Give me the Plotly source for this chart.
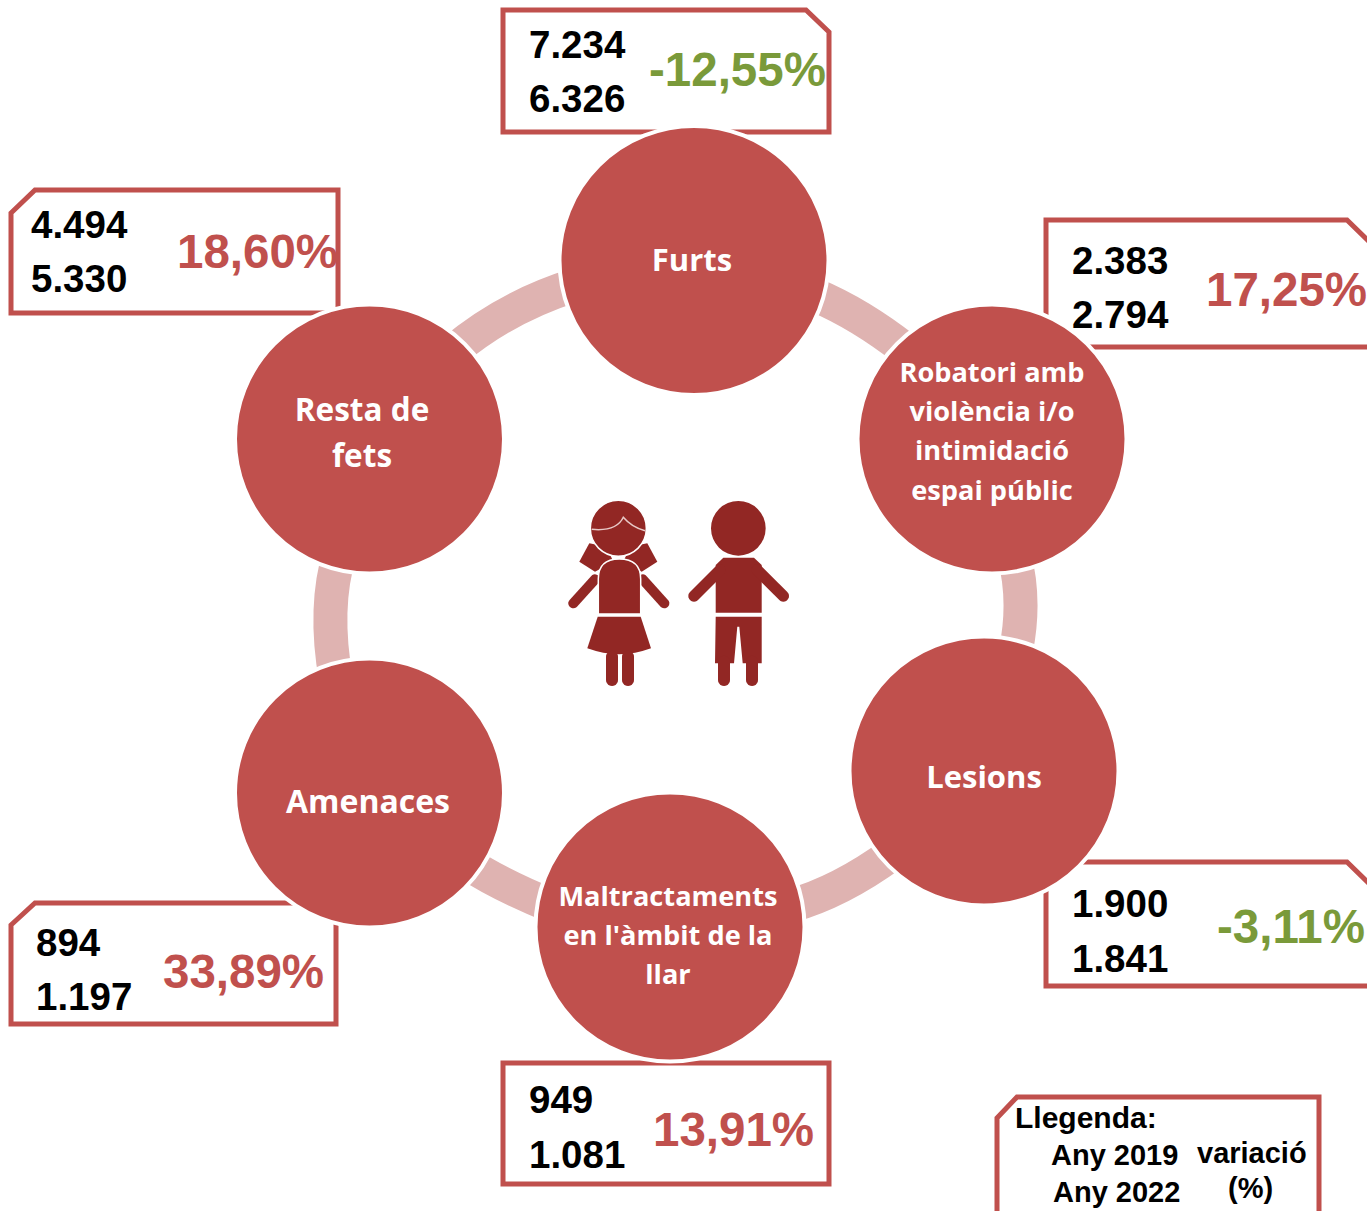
import math
import plotly.graph_objects as go

# ---- data ----
categories = ["Furts", "Robatori amb violència i/o intimidació espai públic", "Lesions",
              "Maltractaments en l'àmbit de la llar", "Amenaces", "Resta de fets"]
values_2019 = ["7.234", "2.383", "1.900", "949", "894", "4.494"]
values_2022 = ["6.326", "2.794", "1.841", "1.081", "1.197", "5.330"]
variation = ["-12,55%", "17,25%", "-3,11%", "13,91%", "33,89%", "18,60%"]
label_lines = [["Furts"], ["Robatori amb", "violència i/o", "intimidació", "espai públic"], ["Lesions"],
               ["Maltractaments", "en l'àmbit de la", "llar"], ["Amenaces"], ["Resta de", "fets"]]
legend_title = "Llegenda:"
legend_years = ["Any 2019", "Any 2022"]
legend_variation = ["variació", "(%)"]

# ---- layout of the infographic (pixels) ----
RED, GREEN, PINK, DARK = "#C0504D", "#7A9A3A", "#DFB3B1", "#922724"
node_xy = [(694, 260.5), (992, 439), (984, 771), (670, 927), (369.5, 793), (369.5, 439)]
label_y = [[263], [375, 414, 453, 493], [780], [899, 938, 977], [805], [413, 459]]
label_x = [692, 992, 984, 668, 368, 362]
label_size = [31, 27.2, 31, 27.2, 32, 31.5]
num_x = [528, 1071, 1071, 528, 35, 30]
num_y = [(44.5, 98.5), (260.5, 314.5), (903.5, 958.5), (1099.5, 1154.5), (942.5, 996.5), (224.5, 278.5)]
var_x = [737, 1286, 1291, 733, 243, 257]
var_y = [69, 289, 926, 1129, 971, 251]

boxes = [
    [(503, 10), (806, 10), (829, 32), (829, 132), (503, 132)],
    [(1046, 220), (1347, 220), (1390, 262), (1390, 347), (1046, 347)],
    [(1046, 862), (1347, 862), (1390, 904), (1390, 986), (1046, 986)],
    [(503, 1063), (829, 1063), (829, 1184), (503, 1184)],
    [(35, 903), (336, 903), (336, 1024), (11, 1024), (11, 925)],
    [(35, 190), (338, 190), (338, 313), (11, 313), (11, 213)],
    [(1017, 1097), (1319, 1097), (1319, 1240), (997, 1240), (997, 1118)],
]
arcs = [
    ((815, 295), (860, 314), (906, 350)),
    ((1014, 555), (1026, 600), (1016, 650)),
    ((790, 906), (840, 892), (892, 854)),
    ((465, 862), (500, 885), (552, 906)),
    ((340, 552), (323, 607), (336, 680)),
    ((452, 352), (505, 307), (575, 285)),
]

shapes = []
for pts in boxes:
    d = "M" + " L".join(f"{x},{y}" for x, y in pts) + " Z"
    shapes.append(dict(type="path", path=d, line=dict(color=RED, width=5), fillcolor="white", layer="below"))
for a, c, b in arcs:
    d = f"M{a[0]},{a[1]} Q{c[0]},{c[1]} {b[0]},{b[1]}"
    shapes.append(dict(type="path", path=d, line=dict(color=PINK, width=34), layer="below"))


# children pictogram, coordinates measured in a 3x crop with origin (550,490)
def z(x, y):
    return 550 + x / 3, 490 + y / 3


def poly(pts):
    p = [z(*q) for q in pts]
    return f"M{p[0][0]:.1f},{p[0][1]:.1f} " + " ".join(f"L{x:.1f},{y:.1f}" for x, y in p[1:]) + " Z"


def fill(d, outline=None):
    line = dict(width=0) if outline is None else dict(color=outline, width=1.5)
    shapes.append(dict(type="path", path=d, fillcolor=DARK, line=line, layer="above"))


def capsule(x0, y0, x1, y1, w):
    (ax, ay), (bx, by) = z(x0, y0), z(x1, y1)
    r = w / 6
    base = math.atan2(by - ay, bx - ax)
    pts = []
    for k in range(13):
        t = base - math.pi / 2 + math.pi * k / 12
        pts.append((bx + r * math.cos(t), by + r * math.sin(t)))
    for k in range(13):
        t = base + math.pi / 2 + math.pi * k / 12
        pts.append((ax + r * math.cos(t), ay + r * math.sin(t)))
    fill(f"M{pts[0][0]:.1f},{pts[0][1]:.1f} " + " ".join(f"L{x:.1f},{y:.1f}" for x, y in pts[1:]) + " Z")


def disc(cx, cy, r, outline=None):
    x, y = z(cx, cy)
    r /= 3
    line = dict(width=0) if outline is None else dict(color=outline, width=1.5)
    shapes.append(dict(type="circle", x0=x - r, x1=x + r, y0=y - r, y1=y + r, fillcolor=DARK,
                       line=line, layer="above"))


# girl
fill(poly([(118, 160), (88, 215), (135, 245), (190, 215), (170, 170)]))
fill(poly([(292, 160), (322, 215), (275, 245), (220, 215), (240, 170)]))
disc(205, 115, 84, "white")
capsule(135, 268, 70, 340, 30)
capsule(278, 268, 343, 340, 30)
ax0, ay0 = z(145, 372)
ax1, ay1 = z(272, 372)
tx, ty = z(208, 207)
fill(f"M{ax0:.1f},{ay0:.1f} L{ax0:.1f},{ty+20:.1f} Q{ax0:.1f},{ty:.1f} {tx:.1f},{ty:.1f} "
     f"Q{ax1:.1f},{ty:.1f} {ax1:.1f},{ty+20:.1f} L{ax1:.1f},{ay1:.1f} Z", "white")
sx0, sy0 = z(143, 380)
sx1, sy1 = z(272, 380)
bx0, by0 = z(112, 475)
bx1, by1 = z(303, 475)
cx, cy = z(208, 510)
fill(f"M{sx0:.1f},{sy0:.1f} L{sx1:.1f},{sy1:.1f} L{bx1:.1f},{by1:.1f} Q{cx:.1f},{cy:.1f} {bx0:.1f},{by0:.1f} Z")
capsule(186, 500, 186, 570, 36)
capsule(234, 500, 234, 570, 36)
hx0, hy0 = z(125, 118)
hc, hd = z(200, 125)
hm, hn = z(220, 82)
he, hf = z(245, 112)
hx1, hy1 = z(285, 122)
shapes.append(dict(type="path", layer="above", line=dict(color="#E8C9C7", width=1.5),
                   path=f"M{hx0:.1f},{hy0:.1f} Q{hc:.1f},{hd:.1f} {hm:.1f},{hn:.1f} Q{he:.1f},{hf:.1f} {hx1:.1f},{hy1:.1f}"))
# boy
disc(565, 115, 82)
fill(poly([(520, 203), (612, 203), (635, 225), (635, 368), (497, 368), (497, 225)]))
capsule(510, 240, 432, 318, 34)
capsule(622, 240, 700, 318, 34)
fill(poly([(497, 380), (635, 380), (635, 520), (578, 520), (568, 410), (562, 410), (552, 520), (495, 520)]))
capsule(522, 515, 522, 570, 36)
capsule(606, 515, 606, 570, 36)

fig = go.Figure()

# nodes
fig.add_trace(go.Scatter(
    x=[p[0] for p in node_xy], y=[p[1] for p in node_xy], mode="markers", hoverinfo="text",
    hovertext=categories, cliponaxis=False,
    marker=dict(size=269, color=RED, line=dict(color="white", width=4), opacity=1)))

# node labels
lx, ly, lt, ls = [], [], [], []
for x, ys, lines, s in zip(label_x, label_y, label_lines, label_size):
    for y, t in zip(ys, lines):
        lx.append(x); ly.append(y); lt.append(f"<b>{t}</b>"); ls.append(s)
fig.add_trace(go.Scatter(x=lx, y=ly, text=lt, mode="text", hoverinfo="skip", cliponaxis=False,
                         textposition="middle center",
                         textfont=dict(family="Open Sans", size=ls, color="white")))

annotations = []


def note(x, y, t, size, color="black", anchor="left", family="Liberation Sans"):
    annotations.append(dict(x=x, y=y, text=f"<b>{t}</b>", showarrow=False, xanchor=anchor, yanchor="middle",
                            font=dict(family=family, size=size, color=color), xref="x", yref="y",
                            borderpad=0, align="left"))


for i in range(6):
    note(num_x[i], num_y[i][0], values_2019[i], 38.5)
    note(num_x[i], num_y[i][1], values_2022[i], 38.5)
    color = GREEN if variation[i].startswith("-") else RED
    note(var_x[i], var_y[i], variation[i], 47.5, color, "center")

note(1014, 1117, legend_title, 30)
note(1050, 1155, legend_years[0], 29)
note(1052, 1192, legend_years[1], 29)
note(1252, 1153, legend_variation[0], 29, anchor="center")
note(1250, 1188, legend_variation[1], 29, anchor="center")

fig.update_layout(
    width=1367, height=1211, margin=dict(l=0, r=0, t=0, b=0), showlegend=False,
    paper_bgcolor="white", plot_bgcolor="white", shapes=shapes, annotations=annotations,
    xaxis=dict(range=[0, 1367], visible=False, fixedrange=True),
    yaxis=dict(range=[1211, 0], visible=False, fixedrange=True),
)
fig.write_html("out.html", config=dict(displayModeBar=False),
               post_script="document.body.style.margin='0';document.body.style.overflow='hidden';")
